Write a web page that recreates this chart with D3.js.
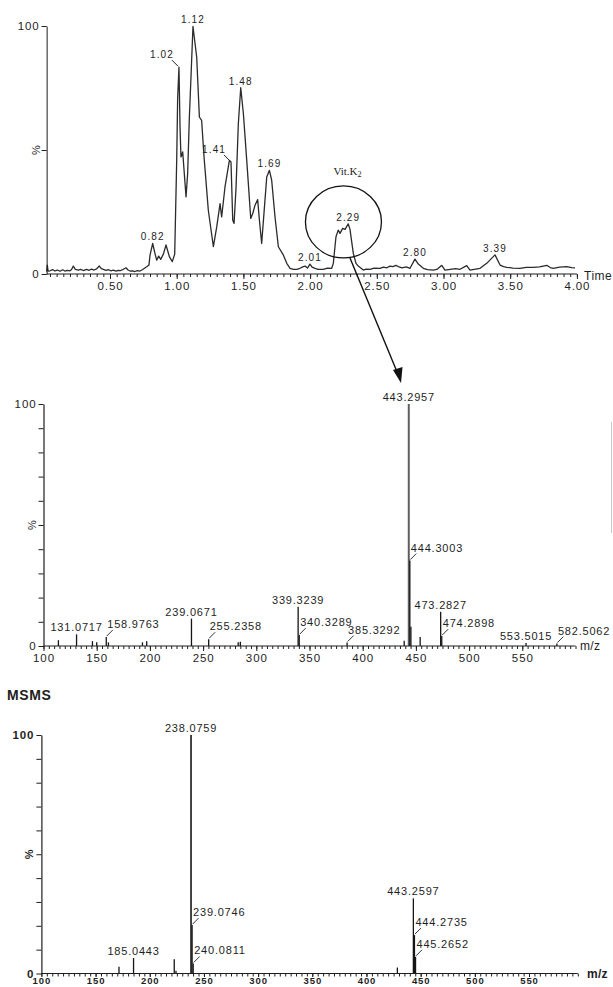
<!DOCTYPE html>
<html>
<head>
<meta charset="utf-8">
<script src="https://cdn.jsdelivr.net/npm/d3@7"></script>
<style>
body { margin: 0; background: #fff; }
svg text { font-family: "Liberation Sans", Arial, sans-serif; fill: #1e1e1e; }
</style>
</head>
<body>
<svg id="fig" width="613" height="987"></svg>
<script>
// ---- chromatogram (TIC) ----
var ticTime = [0.025,0.030,0.036,0.05,0.07,0.087,0.105,0.125,0.145,0.162,0.18,0.200,0.212,0.225,0.24,0.262,0.28,0.30,0.325,0.345,0.362,0.38,0.40,0.420,0.435,0.450,0.47,0.487,0.505,0.525,0.545,0.562,0.580,0.600,0.620,0.635,0.650,0.670,0.687,0.705,0.725,0.745,0.775,0.792,0.800,0.820,0.837,0.850,0.865,0.880,0.900,0.920,0.945,0.967,0.985,1.000,1.007,1.017,1.025,1.032,1.045,1.070,1.082,1.095,1.110,1.122,1.150,1.170,1.187,1.205,1.237,1.275,1.300,1.325,1.337,1.362,1.395,1.407,1.420,1.430,1.445,1.462,1.480,1.500,1.525,1.555,1.570,1.587,1.607,1.620,1.637,1.662,1.675,1.695,1.712,1.737,1.762,1.800,1.825,1.850,1.875,1.900,1.924,1.945,1.962,1.980,1.999,2.015,2.037,2.06,2.099,2.13,2.162,2.174,2.194,2.211,2.224,2.244,2.262,2.286,2.299,2.324,2.344,2.361,2.38,2.399,2.42,2.449,2.48,2.524,2.55,2.575,2.599,2.62,2.644,2.66,2.69,2.72,2.749,2.786,2.811,2.849,2.88,2.924,2.955,2.987,3.011,3.05,3.09,3.124,3.174,3.199,3.23,3.274,3.324,3.386,3.424,3.45,3.474,3.52,3.574,3.62,3.673,3.72,3.774,3.80,3.823,3.87,3.924,3.96,3.986];
var ticPct = [1.0,3.6,1.2,1.3,1.8,1.2,1.6,1.1,1.7,1.2,1.5,1.3,1.8,3.2,1.9,1.6,1.9,1.4,1.9,1.5,2.0,1.6,2.1,3.2,2.2,1.9,1.5,1.8,1.3,1.6,1.2,1.5,1.4,1.9,2.5,1.6,1.2,1.3,1.0,1.4,1.2,1.8,2.9,3.6,7.6,12.3,8.3,5.6,7.2,5.9,8.0,11.7,7.0,5.0,8.0,45.8,70.6,83.4,59.2,47.2,49.2,31.1,40.5,63.3,83.4,99.8,87.4,63.3,61.9,47.2,25.7,11.0,19.0,28.4,23.0,35.1,45.8,45.2,21.7,20.4,35.1,60.6,75.1,64.6,45.8,22.4,24.4,27.7,30.0,21.7,12.3,30.0,39.1,41.8,37.8,23.0,11.0,7.6,4.3,2.3,1.9,1.9,2.3,2.9,3.2,2.4,4.0,2.8,2.3,1.9,1.9,2.4,2.3,4.3,15.0,17.7,16.4,18.4,18.0,20.2,18.0,8.3,4.3,3.2,2.4,1.6,2.0,1.9,2.4,2.3,2.8,2.5,3.2,3.0,3.5,3.0,2.5,2.9,2.3,6.0,4.0,2.3,1.8,1.6,2.0,3.5,1.6,1.9,2.2,1.9,3.4,1.6,1.9,2.3,4.3,7.7,3.6,3.0,2.7,2.4,2.3,2.7,2.7,2.9,3.5,2.6,2.3,2.8,3.0,2.6,2.5];
var ticPeakLabel = ["0.82", "1.02", "1.12", "1.41", "1.48", "1.69", "2.01", "2.29", "2.80", "3.39"];
var ticPeakTime = [0.82, 1.017, 1.122, 1.407, 1.48, 1.695, 1.999, 2.286, 2.786, 3.386];
var ticPeakPct = [12.3, 83.4, 99.8, 45.2, 75.1, 41.8, 4.0, 20.2, 6.0, 7.7];
var ticLeader = ["1.02", "1.41"];

// ---- full scan MS ----
var ms1Mz = [114, 131.07, 146, 150, 158.98, 161, 193, 197, 239.07, 255.24, 283, 285, 339.32, 340.33, 385.33, 439, 443.30, 444.30, 445.30, 454, 473.28, 474.29, 553.50, 582.51];
var ms1Pct = [2.4, 4.8, 2.0, 1.5, 3.7, 1.5, 1.5, 2.0, 11.3, 2.8, 1.5, 1.8, 16.2, 4.5, 1.4, 2.2, 100, 35.3, 8.0, 3.7, 14.2, 4.1, 1.2, 1.0];
var ms1Label = ["131.0717", "158.9763", "239.0671", "255.2358", "339.3239", "340.3289", "385.3292", "443.2957", "444.3003", "473.2827", "474.2898", "553.5015", "582.5062"];
var ms1Leader = ["158.9763", "255.2358", "340.3289", "385.3292", "444.3003", "474.2898", "582.5062"];

// ---- MSMS ----
var ms2Mz = [171.6, 185.04, 222.6, 224.2, 238.08, 239.07, 240.08, 428.5, 443.26, 444.27, 445.27];
var ms2Pct = [2.8, 6.5, 6.0, 1.2, 100, 20.3, 4.2, 2.5, 31.5, 16.1, 7.0];
var ms2Label = ["185.0443", "238.0759", "239.0746", "240.0811", "443.2597", "444.2735", "445.2652"];
var ms2Leader = ["239.0746", "240.0811", "444.2735", "445.2652"];

var ink = "#1e1e1e";
var svg = d3.select("#fig");

function styleText(sel, size, bold) {
    sel.selectAll("text")
        .style("font-size", size + "px")
        .style("letter-spacing", "0.9px")
        .style("font-weight", bold ? "700" : "400");
}

function pctLabel(g, x, y, size, bold) {
    g.append("text")
        .attr("transform", "translate(" + x + "," + y + ") rotate(-90)")
        .attr("text-anchor", "middle")
        .style("font-size", size + "px")
        .style("font-weight", bold ? "700" : "400")
        .text("%");
}

// =================== chromatogram ===================
var xT = d3.scaleLinear().domain([0, 4]).range([43.3, 576.9]);
var yT = d3.scaleLinear().domain([0, 100]).range([274, 26]);
var gT = svg.append("g");

gT.append("path")
    .datum(d3.zip(ticTime, ticPct))
    .attr("d", d3.line().x(d => xT(d[0])).y(d => yT(d[1])))
    .attr("fill", "none")
    .attr("stroke", "#2b2b2b")
    .attr("stroke-width", 1.3)
    .attr("stroke-linejoin", "round");

// x axis
gT.append("line")
    .attr("x1", xT(0.025)).attr("x2", xT(4))
    .attr("y1", yT(0)).attr("y2", yT(0))
    .attr("stroke", ink).attr("stroke-width", 1.2);
gT.append("g")
    .attr("transform", "translate(0," + yT(0) + ")")
    .attr("color", ink)
    .call(d3.axisBottom(xT).tickValues(d3.range(1, 81).map(i => i * 0.05)).tickSize(3).tickFormat(""))
    .call(g => g.select(".domain").remove());
var axT = gT.append("g")
    .attr("transform", "translate(0," + yT(0) + ")")
    .attr("color", ink)
    .call(d3.axisBottom(xT).tickValues(d3.range(1, 9).map(i => i * 0.5)).tickSize(5).tickPadding(3).tickFormat(d3.format(".2f")))
    .call(g => g.select(".domain").remove());
styleText(axT, 11.5, false);

// y axis
var ayT = gT.append("g")
    .attr("transform", "translate(" + xT(0.025) + ",0)")
    .attr("color", ink)
    .call(d3.axisLeft(yT).tickValues([0, 50, 100]).tickSize(5).tickSizeOuter(0).tickPadding(2)
        .tickFormat(d => d === 50 ? "" : d));
styleText(ayT, 11.5, false);
pctLabel(gT, 40, yT(50), 11, false);

gT.append("text")
    .attr("x", 584).attr("y", 280)
    .style("font-size", "12px").style("letter-spacing", "0.5px")
    .text("Time");

// peak labels
ticPeakLabel.forEach(function (lab, i) {
    var px = xT(ticPeakTime[i]);
    var py = yT(ticPeakPct[i]);
    if (ticLeader.indexOf(lab) >= 0) {
        gT.append("line")
            .attr("x1", px - 1).attr("y1", py - 1)
            .attr("x2", px - 7).attr("y2", py - 7)
            .attr("stroke", ink).attr("stroke-width", 1);
        gT.append("text")
            .attr("x", px - 5).attr("y", py - 9)
            .attr("text-anchor", "end")
            .style("font-size", "10px").style("letter-spacing", "1.1px")
            .text(lab);
    } else {
        gT.append("text")
            .attr("x", px).attr("y", py - 3)
            .attr("text-anchor", "middle")
            .style("font-size", "10px").style("letter-spacing", "1.1px")
            .text(lab);
    }
});

// Vit.K2 annotation
var vitX = xT(2.25);
var vitY = yT(21);
gT.append("ellipse")
    .attr("cx", vitX).attr("cy", vitY)
    .attr("rx", 38).attr("ry", 36)
    .attr("fill", "none").attr("stroke", "#111").attr("stroke-width", 1.3);
var vit = gT.append("text")
    .attr("x", vitX + 4).attr("y", vitY - 47)
    .attr("text-anchor", "middle")
    .style("font-family", "'Liberation Serif', 'Times New Roman', serif")
    .style("font-size", "11px");
vit.append("tspan").text("Vit.K");
vit.append("tspan").attr("dy", 2).style("font-size", "8px").text("2");

// arrow to the MS spectrum
svg.append("line")
    .attr("x1", 350).attr("y1", 258)
    .attr("x2", 397.5).attr("y2", 373)
    .attr("stroke", "#111").attr("stroke-width", 1.4);
svg.append("path")
    .attr("d", "M401,383 L393,370 L402.5,367 Z")
    .attr("fill", "#111");

// =================== spectra ===================
function drawSpectrum(opt) {
    var g = svg.append("g");
    var x = d3.scaleLinear().domain([100, 600]).range(opt.xRange);
    var y = d3.scaleLinear().domain([0, 100]).range(opt.yRange);

    // sticks
    g.selectAll("line.stick")
        .data(d3.zip(opt.mz, opt.pct))
        .enter()
        .append("line")
        .attr("class", "stick")
        .attr("x1", d => x(d[0])).attr("x2", d => x(d[0]))
        .attr("y1", y(0)).attr("y2", d => y(d[1]))
        .attr("stroke", d => (d[1] >= 99 && opt.baseGray) ? "#5e5e5e" : "#151515")
        .attr("stroke-width", d => d[1] >= 99 ? opt.baseWidth : 1.3);

    // x axis
    g.append("line")
        .attr("x1", x(100)).attr("x2", x(opt.xEnd))
        .attr("y1", y(0)).attr("y2", y(0))
        .attr("stroke", ink).attr("stroke-width", 1.2);
    g.append("g")
        .attr("transform", "translate(0," + y(0) + ")")
        .attr("color", ink)
        .call(d3.axisBottom(x).tickValues(d3.range(100, opt.xEnd + 1, 5)).tickSize(3).tickFormat(""))
        .call(s => s.select(".domain").remove());
    var ax = g.append("g")
        .attr("transform", "translate(0," + y(0) + ")")
        .attr("color", ink)
        .call(d3.axisBottom(x).tickValues(d3.range(100, 551, 50)).tickSize(opt.majorTick).tickPadding(opt.xPad).tickFormat(d3.format("d")))
        .call(s => s.select(".domain").remove());
    styleText(ax, opt.xFont, opt.bold);

    // y axis
    var ay = g.append("g")
        .attr("transform", "translate(" + x(100) + ",0)")
        .attr("color", ink)
        .call(d3.axisLeft(y).tickValues(d3.range(0, 101, 10)).tickSize(5).tickSizeOuter(0).tickPadding(2)
            .tickFormat(d => (d === 0 || d === 100) ? d : ""));
    ay.select(".domain").attr("stroke-width", 1.2);
    styleText(ay, 11.5, opt.bold);
    pctLabel(g, x(100) - 8, y(50), 11, opt.bold);

    g.append("text")
        .attr("x", opt.mzX).attr("y", y(0) + 4)
        .style("font-size", "12px")
        .style("font-weight", opt.bold ? "700" : "400")
        .style("letter-spacing", "0.3px")
        .text("m/z");

    // peak labels
    opt.labels.forEach(function (lab) {
        var m = +lab;
        var k = d3.leastIndex(opt.mz, v => Math.abs(v - m));
        var px = x(m);
        var py = y(opt.pct[k]);
        if (opt.leaders.indexOf(lab) >= 0) {
            g.append("line")
                .attr("x1", px + 0.5).attr("y1", py - 1)
                .attr("x2", px + 6.5).attr("y2", py - 7)
                .attr("stroke", ink).attr("stroke-width", 0.9);
            g.append("text")
                .attr("x", px + 1).attr("y", py - 9)
                .style("font-size", "11px").style("letter-spacing", "0.8px")
                .text(lab);
        } else {
            g.append("text")
                .attr("x", px).attr("y", py - 3)
                .attr("text-anchor", "middle")
                .style("font-size", "11px").style("letter-spacing", "0.8px")
                .text(lab);
        }
    });
    return g;
}

drawSpectrum({
    mz: ms1Mz, pct: ms1Pct, labels: ms1Label, leaders: ms1Leader,
    xRange: [43.5, 575.5], yRange: [646, 404], xEnd: 600,
    majorTick: 5, xPad: 3, xFont: 11.5, bold: false, baseGray: true, baseWidth: 2, mzX: 580
});

// faint scan line at the right edge
svg.append("line")
    .attr("x1", 611.5).attr("x2", 611.5)
    .attr("y1", 422).attr("y2", 533)
    .attr("stroke", "#c8c8c8").attr("stroke-width", 1);

svg.append("text")
    .attr("x", 7).attr("y", 700)
    .style("font-size", "14px").style("font-weight", "700").style("letter-spacing", "0.6px")
    .text("MSMS");

drawSpectrum({
    mz: ms2Mz, pct: ms2Pct, labels: ms2Label, leaders: ms2Leader,
    xRange: [41.4, 583.2], yRange: [973.5, 735], xEnd: 595,
    majorTick: 3.5, xPad: 0.5, xFont: 9.5, bold: true, baseGray: false, baseWidth: 1.6, mzX: 587
});
</script>
</body>
</html>
